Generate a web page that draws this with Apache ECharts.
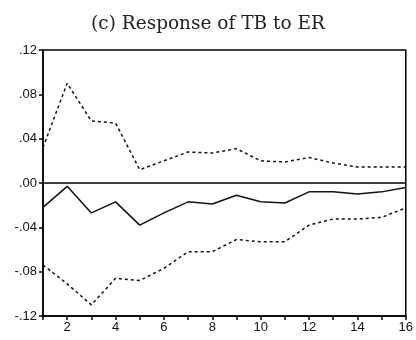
<!DOCTYPE html>
<html><head><meta charset="utf-8">
<script src="https://cdn.jsdelivr.net/npm/echarts@6/dist/echarts.min.js"></script>
<style>html,body{margin:0;padding:0;background:#fff}#c{width:416px;height:340px}</style>
</head><body><div id="c"></div>
<script>
const periods = [1,2,3,4,5,6,7,8,9,10,11,12,13,14,15,16];
const response = [-0.022,-0.003,-0.027,-0.017,-0.038,-0.027,-0.017,-0.019,-0.011,-0.017,-0.018,-0.008,-0.008,-0.010,-0.008,-0.004];
const upperBand = [0.032,0.090,0.056,0.054,0.012,0.020,0.028,0.027,0.031,0.020,0.019,0.023,0.018,0.0145,0.0145,0.0145];
const lowerBand = [-0.074,-0.091,-0.110,-0.086,-0.088,-0.077,-0.062,-0.062,-0.051,-0.053,-0.053,-0.038,-0.0325,-0.0325,-0.031,-0.0225];
const titleText = '(c) Response of TB to ER';

const pair = a => periods.map((p,i)=>[p,a[i]]);
const fmtY = v => { const n = Math.round(v*100); const s = (Math.abs(n)<10?'0':'')+Math.abs(n); return (n<0?'-':'')+'.'+s; };

const chart = echarts.init(document.getElementById('c'), null, {renderer:'canvas'});
chart.setOption({
  animation:false,
  backgroundColor:'#fff',
  title:{text:titleText,left:'center',top:10,textStyle:{fontFamily:'DejaVu Serif',fontWeight:'normal',fontSize:18.5,color:'#222'}},
  grid:{left:43,right:7,top:50,bottom:24,show:true,borderColor:'#000',borderWidth:1.5,backgroundColor:'transparent'},
  xAxis:{type:'value',min:1,max:16,interval:1,
    axisLine:{show:true,onZero:false,lineStyle:{color:'#000',width:1.5}},
    axisTick:{show:true,inside:false,length:4,lineStyle:{color:'#000',width:1.5}},
    axisLabel:{color:'#111',fontFamily:'Liberation Sans',fontSize:13,margin:5,
      formatter:v=> (v%2===0? String(v):''),showMinLabel:true,showMaxLabel:true},
    splitLine:{show:false}},
  yAxis:{type:'value',min:-0.12,max:0.12,interval:0.04,
    axisLine:{show:true,lineStyle:{color:'#000',width:1.5}},
    axisTick:{show:true,length:4,lineStyle:{color:'#000',width:1.5}},
    axisLabel:{color:'#111',fontFamily:'Liberation Sans',fontSize:13,margin:6,formatter:fmtY},
    splitLine:{show:false}},
  series:[
    {type:'line',data:pair(response),symbol:'none',lineStyle:{color:'#111',width:1.5},
     markLine:{silent:true,symbol:'none',label:{show:false},lineStyle:{color:'#000',width:1.5,type:'solid'},data:[{yAxis:0}]}},
    {type:'line',data:pair(upperBand),symbol:'none',lineStyle:{color:'#111',width:1.5,type:[3,3]}},
    {type:'line',data:pair(lowerBand),symbol:'none',lineStyle:{color:'#111',width:1.5,type:[3,3]}}
  ]
});
</script></body></html>
